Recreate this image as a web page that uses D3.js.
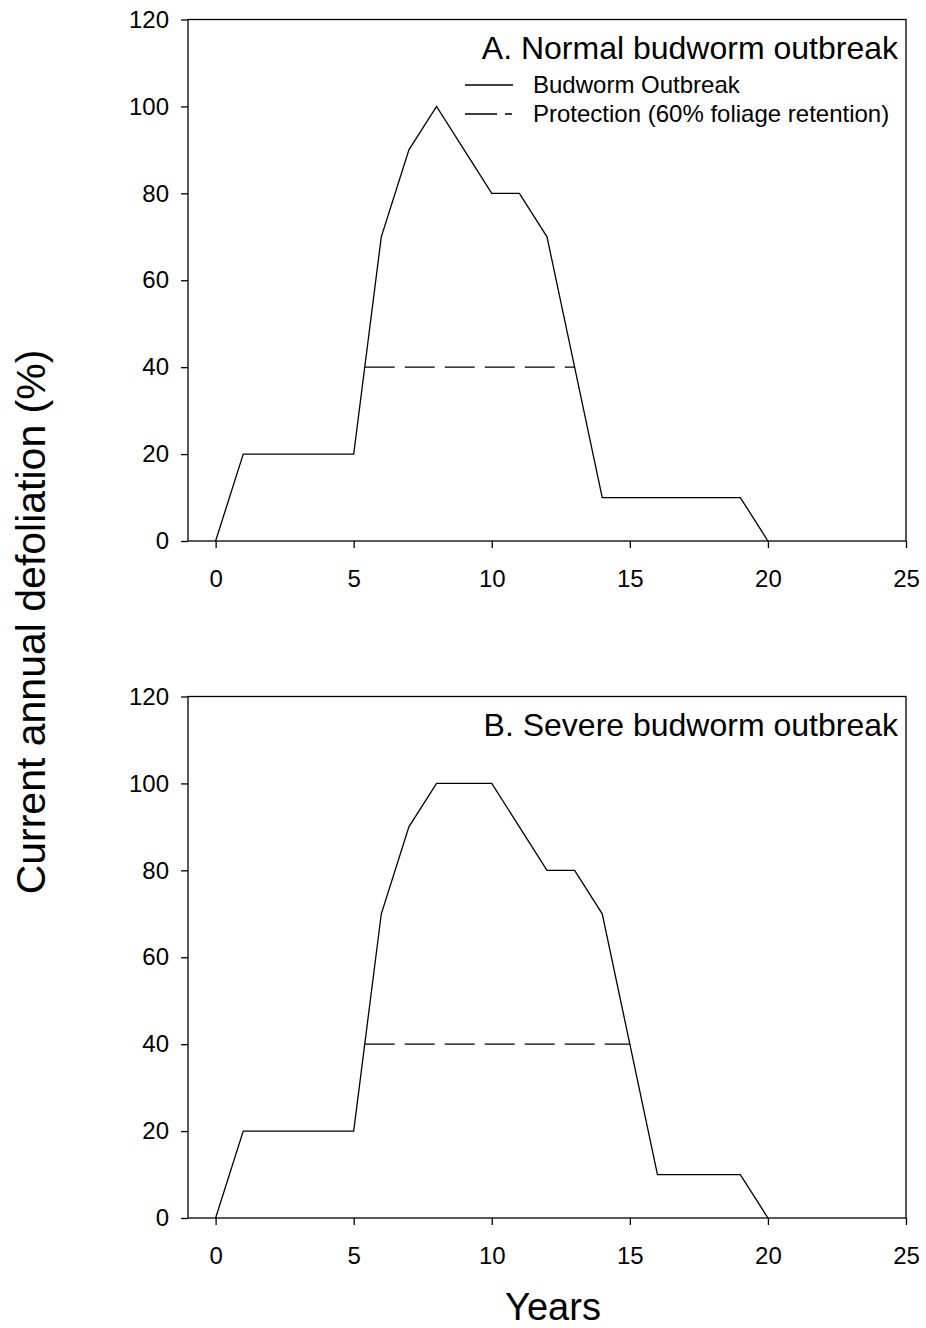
<!DOCTYPE html>
<html>
<head>
<meta charset="utf-8">
<script src="https://cdn.jsdelivr.net/npm/d3@7"></script>
<style>
  body { margin: 0; background: #fff; }
  svg { font-family: "Liberation Sans", Arial, sans-serif; }
</style>
</head>
<body>
<div id="chart"></div>
<script>
// years and defoliation (%)
const yearsA = [0, 1, 5, 6, 7, 8, 9, 10, 11, 12, 13, 14, 19, 20];
const defolA = [0, 20, 20, 70, 90, 100, 90, 80, 80, 70, 40, 10, 10, 0];
const yearsB = [0, 1, 5, 6, 7, 8, 10, 11, 12, 13, 14, 15, 16, 19, 20];
const defolB = [0, 20, 20, 70, 90, 100, 100, 90, 80, 80, 70, 40, 10, 10, 0];
const protYearsA = [5.4, 13];
const protYearsB = [5.4, 15];
const protLevel = 40;
const xTicks = [0, 5, 10, 15, 20, 25];
const yTicks = [0, 20, 40, 60, 80, 100, 120];
const titles = ["A. Normal budworm outbreak", "B. Severe budworm outbreak"];
const legendLabels = ["Budworm Outbreak", "Protection (60% foliage retention)"];

const width = 926, height = 1328;
const left = 188, right = 906;
const panels = [
  { top: 19.5, bottom: 541, years: yearsA, vals: defolA, prot: protYearsA, title: titles[0], legend: true },
  { top: 696.5, bottom: 1218, years: yearsB, vals: defolB, prot: protYearsB, title: titles[1], legend: false }
];

const svg = d3.select("#chart").append("svg")
  .attr("width", width).attr("height", height);

panels.forEach(p => {
  const x = d3.scaleLinear().domain([-1, 25]).range([left, right]);
  const y = d3.scaleLinear().domain([0, 120]).range([p.bottom, p.top]);
  const g = svg.append("g");

  // frame
  g.append("rect")
    .attr("x", left).attr("y", p.top)
    .attr("width", right - left).attr("height", p.bottom - p.top)
    .attr("fill", "none").attr("stroke", "#000").attr("stroke-width", 1.3);

  const xAxis = g.append("g")
    .attr("transform", "translate(0," + p.bottom + ")")
    .call(d3.axisBottom(x).tickValues(xTicks).tickSize(7).tickPadding(22).tickSizeOuter(0));
  const yAxis = g.append("g")
    .attr("transform", "translate(" + left + ",0)")
    .call(d3.axisLeft(y).tickValues(yTicks).tickSize(7).tickPadding(12).tickSizeOuter(0));
  [xAxis, yAxis].forEach(a => {
    a.select(".domain").remove();
    a.selectAll("line").attr("stroke-width", 1.3);
    a.selectAll("text").attr("font-size", 24).attr("fill", "#000")
      .attr("font-family", "Liberation Sans, Arial, sans-serif");
  });

  const pts = p.years.map((d, i) => [d, p.vals[i]]);
  g.append("path")
    .datum(pts)
    .attr("fill", "none").attr("stroke", "#000").attr("stroke-width", 1.3)
    .attr("d", d3.line().x(d => x(d[0])).y(d => y(d[1])));

  g.append("path")
    .datum(p.prot.map(d => [d, protLevel]))
    .attr("fill", "none").attr("stroke", "#000").attr("stroke-width", 1.3)
    .attr("stroke-dasharray", "30,10")
    .attr("d", d3.line().x(d => x(d[0])).y(d => y(d[1])));

  g.append("text")
    .attr("x", 898).attr("y", p.top + 39)
    .attr("text-anchor", "end").attr("font-size", 32)
    .text(p.title);

  if (p.legend) {
    const lg = g.append("g");
    lg.append("line").attr("x1", 465).attr("x2", 513).attr("y1", 85).attr("y2", 85)
      .attr("stroke", "#000").attr("stroke-width", 1.3);
    lg.append("line").attr("x1", 465).attr("x2", 513).attr("y1", 114).attr("y2", 114)
      .attr("stroke", "#000").attr("stroke-width", 1.3).attr("stroke-dasharray", "32,8,7,100");
    lg.selectAll("text.leg").data(legendLabels).enter().append("text")
      .attr("class", "leg")
      .attr("x", 533).attr("y", (d, i) => 93 + i * 29)
      .attr("font-size", 24)
      .text(d => d);
  }
});

svg.append("text")
  .attr("transform", "translate(45,622) rotate(-90)")
  .attr("text-anchor", "middle").attr("font-size", 41)
  .text("Current annual defoliation (%)");

svg.append("text")
  .attr("x", 553).attr("y", 1320)
  .attr("text-anchor", "middle").attr("font-size", 38)
  .text("Years");
</script>
</body>
</html>
